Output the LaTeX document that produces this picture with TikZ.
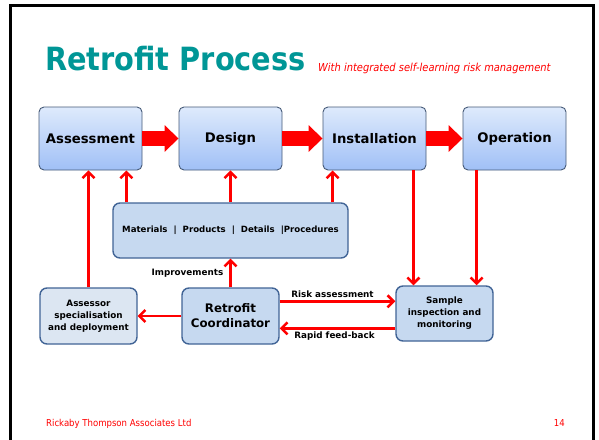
\documentclass[tikz,border=0pt]{standalone}
\usepackage{fontspec}
\setmainfont{DejaVu Sans}
\newfontfamily\condfont{DejaVu Sans Condensed}
\usetikzlibrary{arrows.meta,calc}
\definecolor{teal1}{RGB}{0,150,150}
\definecolor{redA}{RGB}{255,0,0}
\definecolor{topA}{RGB}{222,234,252}
\definecolor{topB}{RGB}{160,192,246}
\definecolor{topBorder}{RGB}{70,90,120}
\definecolor{lowFill}{RGB}{198,217,240}
\definecolor{lowFillB}{RGB}{220,230,242}
\definecolor{lowBorder}{RGB}{65,100,150}
\tikzset{
  topbox/.style={draw=topBorder, line width=0.9pt, rounded corners=5pt,
    top color=topA, bottom color=topB, minimum width=103pt, minimum height=63pt,
    inner sep=0pt, font=\bfseries\fontsize{13.2}{15}\selectfont},
  lowbox/.style={draw=lowBorder, line width=1.4pt, rounded corners=7pt,
    fill=lowFill, minimum width=97pt, minimum height=56pt, inner sep=0pt,
    align=center, font=\bfseries\fontsize{8.8}{12}\selectfont},
  bigarrow/.style={draw=redA, line width=15pt, -{Triangle[length=14pt,width=26pt]}},
  rl/.style={draw=redA, line width=2.5pt, -{Straight Barb[length=6pt,width=12pt]}},
  lbl/.style={font=\bfseries\fontsize{8.8}{10}\selectfont, inner sep=2pt}
}
\begin{document}
\begin{tikzpicture}[x=1pt,y=-1pt]
\useasboundingbox (0,0) rectangle (599,439);
\fill[white] (0,0) rectangle (599,439);
\draw[black, line width=3pt] (10.5,441) -- (10.5,5.5) -- (593.3,5.5) -- (593.3,441);

% title
\node[anchor=base west, inner sep=0pt, text=teal1, font=\condfont\bfseries\fontsize{32}{36}\selectfont] (title) at (45,70) {Retrofit Process};
\node[anchor=base west, inner sep=0pt, text=redA, font=\condfont\itshape\fontsize{11}{13}\selectfont] (sub) at (318,71) {With integrated self-learning risk management};

% top row
\node[topbox] (assess) at (90.5,138.5) {Assessment};
\node[topbox] (design) at (230.5,138.5) {Design};
\node[topbox] (install) at (374.5,138.5) {Installation};
\node[topbox] (oper) at (514.5,138.5) {Operation};

\draw[bigarrow] (assess.east) -- (design.west);
\draw[bigarrow] (design.east) -- (install.west);
\draw[bigarrow] (install.east) -- (oper.west);

% middle
\node[lowbox, minimum width=235pt, minimum height=55pt, font=\bfseries\fontsize{8.6}{10}\selectfont] (mat) at (230.5,230.5) {Materials~~|~~Products~~|~~Details~~|Procedures};

% bottom
\node[lowbox, fill=lowFillB] (assessor) at (88.5,316) {Assessor\\specialisation\\and deployment};
\node[lowbox, font=\bfseries\fontsize{11.8}{15}\selectfont] (coord) at (230.5,316) {Retrofit\\Coordinator};
\node[lowbox, minimum height=55pt] (sample) at (444.5,313.5) {Sample\\inspection and\\monitoring};

% connectors
\draw[rl] (assessor.north) -- (assessor.north |- assess.south);
\coordinate (m1) at ($(mat.north west)+(14,0)$);
\draw[rl] (m1) -- (m1 |- assess.south);
\draw[rl] (mat.north) -- (design.south);
\coordinate (m2) at ($(install.south west)+(10,0)$);
\draw[rl] (m2 |- mat.north) -- (m2);
\coordinate (i1) at ($(install.south east)+(-13,0)$);
\draw[rl] (i1) -- (i1 |- sample.north);
\coordinate (o1) at ($(oper.south west)+(14,0)$);
\draw[rl] (o1) -- (o1 |- sample.north);

\draw[rl] (coord.west) -- (assessor.east);
\draw[rl] (coord.north) -- node[lbl, left, xshift=-4pt] (imp) {Improvements} (mat.south);
\coordinate (r1) at ($(coord.north east)+(0,14)$);
\draw[rl] (r1) -- node[lbl, above, xshift=-5pt] (risk) {Risk assessment} (r1 -| sample.west);
\coordinate (r2) at ($(coord.north east)+(0,41)$);
\draw[rl] (r2 -| sample.west) -- node[lbl, below, xshift=-3pt] (rapid) {Rapid feed-back} (r2);

% footer
\node[anchor=base west, inner sep=0pt, text=redA, font=\condfont\fontsize{9.5}{11}\selectfont] (foot) at (46,426) {Rickaby Thompson Associates Ltd};
\node[anchor=base east, inner sep=0pt, text=redA, font=\condfont\fontsize{9.5}{11}\selectfont] (page) at (565,426) {14};
\end{tikzpicture}
\end{document}
